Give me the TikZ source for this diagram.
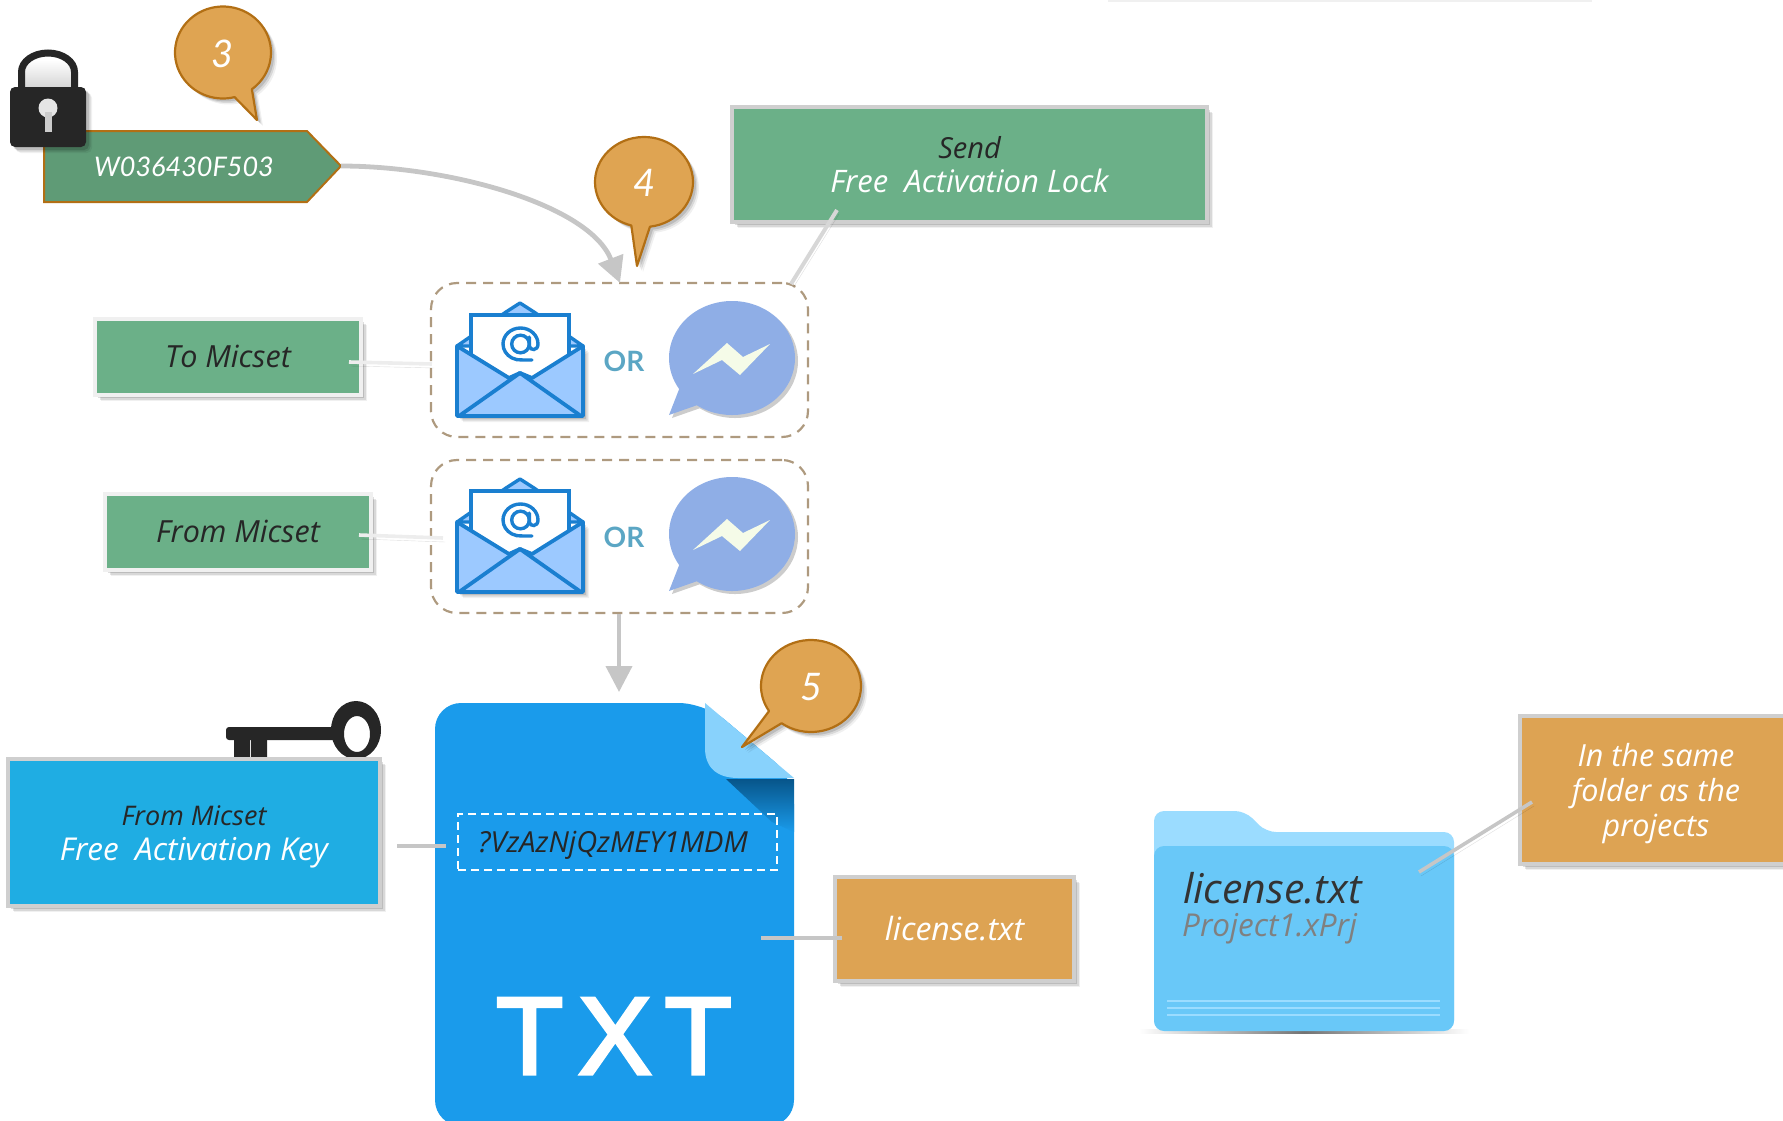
\documentclass[tikz,border=0pt]{standalone}
\usepackage{fontspec}
\setmainfont{Open Sans}
\newfontfamily\gill{Lato}
\newfontfamily\lib[FakeBold=3]{Liberation Sans}
\usetikzlibrary{shadows,arrows.meta}
\newcommand{\lowered}[2]{\raisebox{-#1}[\height][\depth]{#2}}
\definecolor{greenfill}{HTML}{6BB088}
\definecolor{tagfill}{HTML}{5F9B76}
\definecolor{rim}{HTML}{CFCFCF}
\definecolor{rimlight}{HTML}{F0F0F0}
\definecolor{orangefill}{HTML}{DDA353}
\definecolor{calloutfill}{HTML}{DFA452}
\definecolor{calloutline}{HTML}{B26F14}
\definecolor{bluefill}{HTML}{1FADE3}
\definecolor{docblue}{HTML}{1A9BEB}
\definecolor{docshade}{HTML}{07558A}
\definecolor{conn}{HTML}{C6C6C6}
\definecolor{connlight}{HTML}{EDEDED}
\definecolor{dashcol}{HTML}{AE9A7F}
\definecolor{mailblue}{HTML}{1A7FD0}
\definecolor{mailfill}{HTML}{9CC9FF}
\definecolor{msgblue}{HTML}{8FAEE6}
\definecolor{boltcol}{HTML}{F5FBE8}
\definecolor{orblue}{HTML}{5BA6C4}
\definecolor{inkdark}{HTML}{262626}
\definecolor{folderback}{HTML}{9BDCFF}
\definecolor{folderfront}{HTML}{69C8F8}
\tikzset{
  softshadow/.style={
    drop shadow={shadow xshift=6pt,shadow yshift=-6pt,opacity=.06,fill=black},
    drop shadow={shadow xshift=4.5pt,shadow yshift=-4.5pt,opacity=.1,fill=black},
    drop shadow={shadow xshift=3pt,shadow yshift=-3pt,opacity=.13,fill=black}},
  lineshadow/.style={preaction={draw=black,opacity=.13,transform canvas={xshift=2pt,yshift=-4pt}}},
  boxbase/.style={rectangle,draw=rim,line width=4pt,inner sep=0pt,outer sep=0pt,softshadow,align=center,text=inkdark,font=\itshape\fontsize{30.5}{35}\selectfont},
  greenbox/.style={boxbase,fill=greenfill},
  orangebox/.style={boxbase,fill=orangefill,text=white},
  bluebox/.style={boxbase,fill=bluefill},
  callout/.style={fill=calloutfill,draw=calloutline,line width=2.2pt,line join=round,softshadow},
  numlabel/.style={text=white,font=\gill\itshape\fontsize{38}{38}\selectfont},
  connector/.style={draw=conn,line width=3.6pt},
  connectorlight/.style={draw=connlight,line width=3.6pt,lineshadow},
  flow/.style={draw=conn,line width=4pt,-{Triangle[length=26pt,width=26pt]}},
  groupbox/.style={rectangle,draw=dashcol,line width=2.2pt,dash pattern=on 10pt off 7pt,rounded corners=26pt,inner sep=0pt,outer sep=0pt},
  ortext/.style={text=orblue,font=\gill\bfseries\fontsize{28}{28}\selectfont,inner sep=0pt},
  mailicon/.pic={
    \fill[mailfill,draw=mailblue,line width=3.4pt,line join=round] (457,346) -- (506,312) -- (520,303) -- (534,312) -- (583,346) -- cycle;
    \fill[white] (471,356) -- (471,315) -- (569,315) -- (569,356) -- (520,385) -- cycle;
    \draw[mailblue,line width=3.6pt,line join=miter] (471,356) -- (471,315) -- (569,315) -- (569,356);
    \draw[mailblue,line width=3.4pt] (520.5,344) circle[radius=8.8];
    \draw[mailblue,line width=3.4pt,line cap=round] (529.3,337) -- (529.3,346) .. controls (530,351) and (538,351) .. (538,344) arc[start angle=0,end angle=275,x radius=17.5pt,y radius=16pt] -- (532,360);
    \fill[mailfill,draw=mailblue,line width=3.8pt,line join=round,softshadow] (457,346) -- (509,378) -- (520,373) -- (532,378) -- (583,346) -- (583,416) -- (457,416) -- cycle;
    \draw[mailblue,line width=3.8pt,line join=round] (459,416) -- (520,373) -- (581,416);
  },
  msgicon/.pic={
    \fill[msgblue,drop shadow={shadow xshift=3pt,shadow yshift=-3pt,opacity=.2,fill=black}] (732,358)+(236:63pt and 57pt) arc[start angle=236,end angle=573,x radius=63pt,y radius=57pt] -- (669,415) -- cycle;
    \fill[boltcol] (693,374) -- (727,343) -- (743,357) -- (770,344) -- (740,375) -- (722,360) -- cycle;
  }
}
\begin{document}
\begin{tikzpicture}[x=1pt,y=-1pt]
\useasboundingbox (0,0) rectangle (1783,1120);
\clip (0,0) rectangle (1783,1120);
\fill[black!6] (1108,0) rectangle (1592,2);

% key, partly behind its box
\fill[inkdark,rounded corners=3pt] (226,727) -- (337,727) -- (337,740) -- (226,740) -- cycle;
\fill[inkdark] (234,735) rectangle (250,762) (251,735) rectangle (267,762);
\fill[inkdark,even odd rule] (356,730) ellipse[x radius=25,y radius=29] (357,734) ellipse[x radius=13,y radius=18];

% tag
\path[fill=tagfill,draw=calloutline,line width=2pt,line join=miter] (44,131) -- (307,131) -- (341,166) -- (307,202) -- (44,202) -- cycle;
\node[text=white,font=\gill\itshape\fontsize{27}{27}\selectfont,inner sep=0pt] (tagtext) at (184,167) {W036430F503};
\coordinate (tagtip) at (341,166);

% lock
\shade[top color=white,bottom color=black!18] (25,60) rectangle (71,90);
\draw[inkdark,line width=7pt] (21.5,92) -- (21.5,72) arc[start angle=180,end angle=0,x radius=26.5pt,y radius=19pt] -- (74.5,92);
\fill[inkdark,rounded corners=5pt,softshadow] (10,87) rectangle (86,147);
\fill[white!90!black] (48,108) circle[radius=9.5];
\fill[white!80!black] (44.5,112) rectangle (52,132);

% document
\fill[docblue,rounded corners=26pt] (435,1126) -- (435,703) -- (705,703) -- (794,778) -- (794,1126) -- cycle;
\shade[top color=docshade,bottom color=docblue] (726,779) -- (794,779) -- (794,832) -- (772,822) -- cycle;
\fill[folderback!85!docblue] (705,703) -- (794,778) -- (738,778) .. controls (720,778) and (705,770) .. (705,748) -- cycle;
\node[text=white,font=\lib\fontsize{110}{110}\selectfont,inner sep=0pt] (txt) at (614,1036) {T\kern15pt X\kern13pt T};
\node[draw=white,line width=2.2pt,dash pattern=on 8pt off 5pt,rectangle,minimum width=319pt,minimum height=56pt,inner sep=0pt,outer sep=0pt,text=inkdark,font=\itshape\fontsize{29}{29}\selectfont] (keybox) at (617.5,842) {\lowered{3pt}{?VzAzNjQzMEY1MDM}\hspace*{9pt}};

% boxes
\node[greenbox,minimum width=475pt,minimum height=115pt] (send) at (969.5,164.5) {{\fontsize{29}{35}\selectfont Send}\\[-1pt]{\color{white}\fontsize{31}{35}\selectfont Free\ \ Activation Lock}};
\node[greenbox,draw=rimlight,minimum width=266pt,minimum height=76pt] (to) at (228,357) {\lowered{-1pt}{To Micset}};
\node[greenbox,draw=rimlight,minimum width=266pt,minimum height=76pt] (from) at (238,532) {\lowered{-1pt}{From Micset}};
\node[bluebox,minimum width=372pt,minimum height=147pt] (keyb) at (194,832.5) {\lowered{4pt}{\fontsize{27}{35}\selectfont From Micset}\\\lowered{4pt}{\color{white}\fontsize{31.5}{35}\selectfont Free\ \ Activation Key}};
\node[orangebox,minimum width=239pt,minimum height=104pt] (lic) at (954.5,929) {\fontsize{32}{35}\selectfont license.txt};
\node[orangebox,minimum width=272pt,minimum height=148pt] (same) at (1656,790) {\lowered{4pt}{In the same}\\\lowered{4pt}{folder as the}\\\lowered{4pt}{projects}};

% groups
\node[groupbox,minimum width=377pt,minimum height=154pt] (group1) at (619.5,360) {};
\node[groupbox,minimum width=377pt,minimum height=153pt] (group2) at (619.5,536.5) {};
\pic at (0,0) {mailicon};
\pic at (0,0) {msgicon};
\pic at (0,176) {mailicon};
\pic at (0,176) {msgicon};
\node[ortext] (or1) at (624,361) {OR};
\node[ortext] (or2) at (624,537) {OR};

% folder
\shade[left color=white,right color=white,middle color=black!55] (1139,1029) rectangle (1469,1033);
\fill[folderback,rounded corners=10pt] (1154,1030) -- (1154,811) -- (1245,811) -- (1266,832) -- (1454,832) -- (1454,1030) -- cycle;
\fill[folderfront,rounded corners=10pt] (1154,1031) -- (1154,846) -- (1454,846) -- (1454,1031) -- cycle;
\foreach \ly in {1001,1008,1015} \draw[folderback,line width=1.4pt] (1167,\ly) -- (1440,\ly);
\node[anchor=west,inner sep=0pt,text=black!80,font=\itshape\fontsize{41}{41}\selectfont] (flic) at (1183,888) {license.txt};
\node[anchor=west,inner sep=0pt,text=black!50,font=\itshape\fontsize{31.5}{31.5}\selectfont] (fprj) at (1182,929) {Project1.xPrj};

% callouts
\path[callout] (223,52.5)+(-53:48pt and 46pt) arc[start angle=-53,end angle=284,x radius=48pt,y radius=46pt] -- (257,120) -- cycle;
\node[numlabel] (n3) at (223,54) {3};
\path[callout] (644,182)+(-83:49pt and 45pt) arc[start angle=-83,end angle=255,x radius=49pt,y radius=45pt] -- (637,266) -- cycle;
\node[numlabel] (n4) at (645,183) {4};
\path[callout] (811,686)+(234:50pt and 46pt) arc[start angle=234,end angle=573,x radius=50pt,y radius=46pt] -- (742,747) -- cycle;
\node[numlabel] (n5) at (812,687) {5};

% connectors
\coordinate (curveend) at (620,283);
\draw[flow,line width=4.8pt] (tagtip) .. controls (450,166) and (590,205) .. (curveend);
\coordinate (g2out) at (619,614);
\coordinate (docin) at (619,692);
\draw[flow] (g2out) -- (docin);
\coordinate (sendout) at (837,210);
\coordinate (g1corner) at (791,284);
\draw[connectorlight,draw=conn!70!white,line width=4pt] (sendout) -- (g1corner);
\coordinate (toout) at (349,362);
\coordinate (g1left) at (432,364);
\draw[connectorlight] (toout) -- (g1left);
\coordinate (fromout) at (359,535);
\coordinate (g2left) at (443,538);
\draw[connectorlight] (fromout) -- (g2left);
\coordinate (keyout) at (397,846);
\coordinate (keyin) at (446,846);
\draw[connector] (keyout) -- (keyin);
\coordinate (docout) at (761,938);
\coordinate (licin) at (842,938);
\draw[connector] (docout) -- (licin);
\coordinate (sameout) at (1532,802);
\coordinate (folderin) at (1419,872);
\draw[connector,lineshadow] (sameout) -- (folderin);
\end{tikzpicture}
\end{document}
